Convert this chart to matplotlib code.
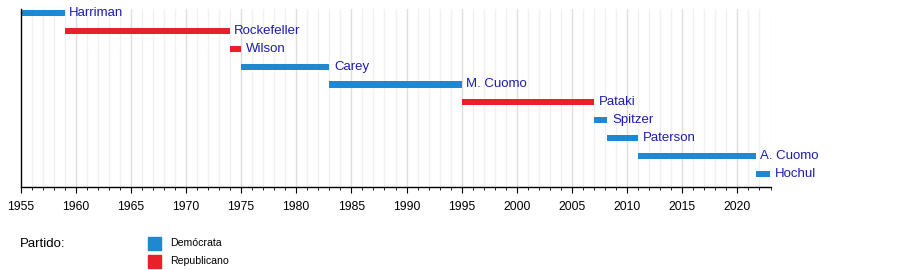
import matplotlib
matplotlib.use('Agg')
import matplotlib.pyplot as plt
import numpy as np

# governors of New York
names = ['Harriman', 'Rockefeller', 'Wilson', 'Carey', 'M. Cuomo',
         'Pataki', 'Spitzer', 'Paterson', 'A. Cuomo', 'Hochul']
starts = [1955.0, 1959.0, 1973.96, 1975.0, 1983.0,
          1995.0, 2007.0, 2008.21, 2011.0, 2021.65]
ends = [1959.0, 1973.96, 1975.0, 1983.0, 1995.0,
        2007.0, 2008.21, 2011.0, 2021.65, 2023.0]
party = ['D', 'R', 'R', 'D', 'D', 'R', 'D', 'D', 'D', 'D']

party_names = ['Demócrata', 'Republicano']
party_colors = {'D': '#1e88d0', 'R': '#e8202a'}
text_color = '#1c1cb0'

year_start, year_end = 1955, 2023

plt.rcParams['font.family'] = ['Liberation Sans', 'DejaVu Sans']
fig = plt.figure(figsize=(9, 2.7), dpi=100)
ax = fig.add_axes([20.5 / 900, 1 - 187 / 270, 750 / 900, 178 / 270])

# grid: every year faint, every 5 years a bit darker
for yr in range(year_start + 1, year_end + 1):
    col = '#dedede' if yr % 5 == 0 else '#f0f0f0'
    ax.axvline(yr, color=col, linewidth=1, zorder=0)

for i, (n, s, e, p) in enumerate(zip(names, starts, ends, party)):
    ax.barh(i, e - s, left=s, height=0.34, color=party_colors[p], zorder=2)
    ax.text(e + 0.42, i, n, color=text_color, fontsize=9.5,
            va='center', ha='left', zorder=3)

ax.set_xlim(year_start, year_end)
ax.set_ylim(9.73, -0.22)
ax.set_yticks([])
ax.set_xticks(np.arange(1955, 2021, 5))
ax.set_xticks(np.arange(1955, 2024, 1), minor=True)
ax.tick_params(axis='x', which='major', length=4, labelsize=8.8, pad=6)
ax.tick_params(axis='x', which='minor', length=2)
for sp in ['top', 'right']:
    ax.spines[sp].set_visible(False)
ax.spines['left'].set_linewidth(1)
ax.spines['bottom'].set_linewidth(1)

# legend
fig.text(20 / 900, 1 - 244 / 270, 'Partido:', fontsize=9.5, va='center', ha='left')
for k, (lbl, key) in enumerate(zip(party_names, ['D', 'R'])):
    yc = 243 + 18 * k
    fig.patches.append(plt.Rectangle((148 / 900, 1 - (yc + 6.5) / 270),
                                     13 / 900, 13 / 270,
                                     transform=fig.transFigure,
                                     color=party_colors[key]))
    fig.text(170 / 900, 1 - yc / 270, lbl, fontsize=7.6, va='center', ha='left')

fig.savefig('out.png', dpi=100)
